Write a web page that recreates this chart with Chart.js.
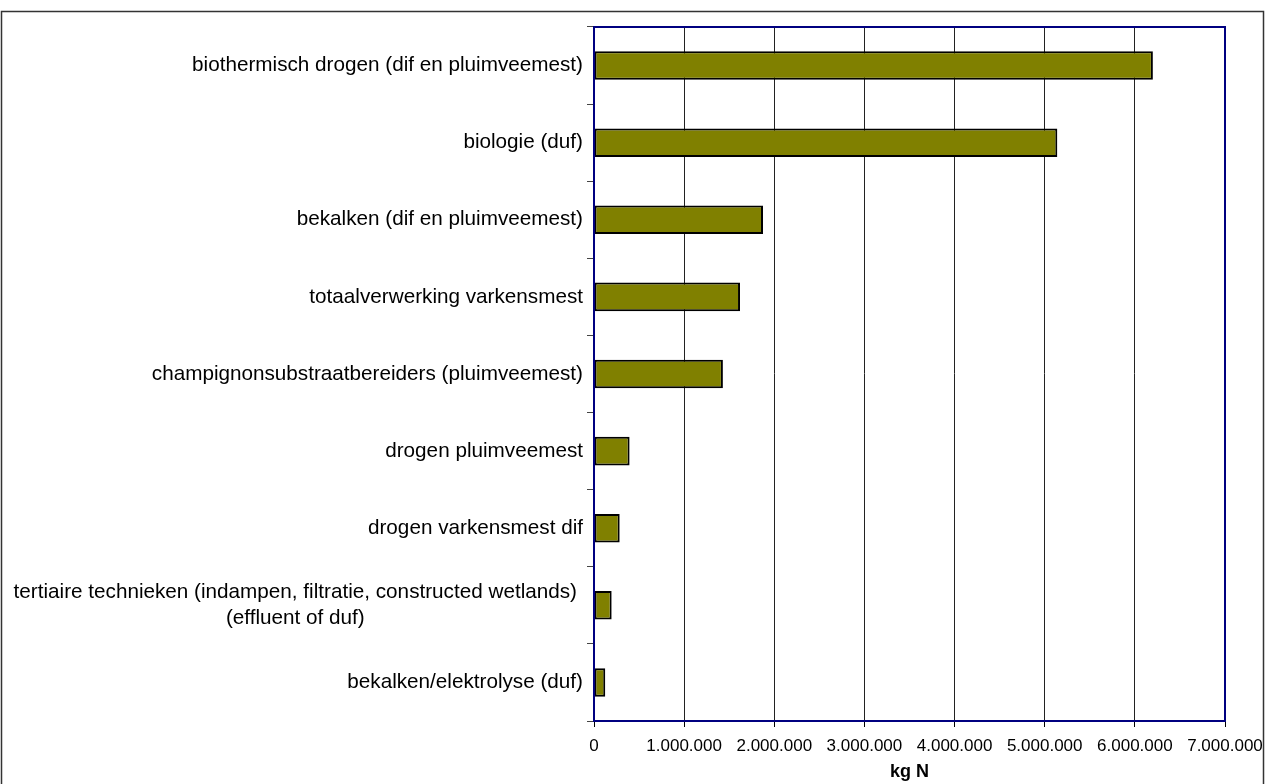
<!DOCTYPE html>
<html>
<head>
<meta charset="utf-8">
<title>kg N per verwerkingstechniek</title>
<script src="https://cdn.jsdelivr.net/npm/chart.js@4.4.1/dist/chart.umd.min.js"></script>
<style>
  html, body { margin: 0; padding: 0; background: #fff; overflow: hidden; }
  #wrap { position: relative; width: 1265px; height: 800px; }
</style>
</head>
<body>
<div id="wrap"><canvas id="chartN"></canvas></div>
<script>
// ---- data ----
const CATEGORIES = [
  ['biothermisch drogen (dif en pluimveemest)'],
  ['biologie (duf)'],
  ['bekalken (dif en pluimveemest)'],
  ['totaalverwerking varkensmest '],
  ['champignonsubstraatbereiders (pluimveemest)'],
  ['drogen pluimveemest'],
  ['drogen varkensmest dif'],
  ['tertiaire technieken (indampen, filtratie, constructed wetlands)', '(effluent of duf)'],
  ['bekalken/elektrolyse (duf)']
];
const VALUES_KG_N = [6200000, 5140000, 1875000, 1620000, 1430000, 395000, 285000, 196000, 125000];
const X_MIN = 0;
const X_MAX = 7000000;
const X_STEP = 1000000;
const X_TITLE = 'kg N';

(function () {
  'use strict';

  const OLIVE = '#808000';
  const NAVY = '#000080';
  const INK = '#000';
  const FONT = "'Liberation Sans', Arial, sans-serif";

  // plot area edges in the reference
  const PLOT_LEFT = 594;
  const PLOT_BOTTOM = 721;
  const CANVAS_H = 800;

  function dotted(v) {
    return String(v).replace(/\B(?=(\d{3})+(?!\d))/g, '.');
  }

  // white background + outer frame
  const framePlugin = {
    id: 'frame',
    beforeDraw: function (chart) {
      const ctx = chart.ctx;
      ctx.save();
      ctx.fillStyle = '#fff';
      ctx.fillRect(0, 0, chart.width, chart.height);
      ctx.strokeStyle = '#333';
      ctx.lineWidth = 1.5;
      ctx.strokeRect(1.5, 11.5, chart.width - 3, chart.height + 20);
      ctx.restore();
    }
  };

  // navy box round the plot area
  const plotBoxPlugin = {
    id: 'plotBox',
    afterDraw: function (chart) {
      const a = chart.chartArea;
      const ctx = chart.ctx;
      ctx.save();
      ctx.strokeStyle = NAVY;
      ctx.lineWidth = 2;
      ctx.strokeRect(a.left, a.top, a.right - a.left, a.bottom - a.top);
      ctx.restore();
    }
  };

  // category labels: block right aligned, lines centred in the block
  const catLabelPlugin = {
    id: 'catLabels',
    afterDraw: function (chart) {
      const ctx = chart.ctx;
      const y = chart.scales.y;
      const size = 20.7;
      const lineH = 26;
      const right = PLOT_LEFT - 11;
      ctx.save();
      ctx.font = size + 'px ' + FONT;
      ctx.fillStyle = INK;
      ctx.textAlign = 'center';
      ctx.textBaseline = 'middle';
      CATEGORIES.forEach(function (lines, i) {
        const cy = y.getPixelForValue(i);
        const w = Math.max.apply(null, lines.map(function (l) { return ctx.measureText(l.trimEnd()).width; }));
        const cx = (lines.length > 1 ? right - 6 : right) - w / 2;
        const y0 = cy - (lines.length - 1) * lineH / 2;
        lines.forEach(function (l, k) {
          ctx.fillText(l.trimEnd(), cx, y0 + k * lineH);
        });
      });
      ctx.restore();
    }
  };

  new Chart(document.getElementById('chartN'), {
    type: 'bar',
    data: {
      labels: CATEGORIES,
      datasets: [{
        data: VALUES_KG_N,
        backgroundColor: OLIVE,
        borderColor: INK,
        borderWidth: 2,
        borderSkipped: false,
        categoryPercentage: 1,
        barPercentage: 0.37
      }]
    },
    options: {
      indexAxis: 'y',
      responsive: true,
      maintainAspectRatio: false,
      animation: false,
      layout: { padding: { left: 0, top: 27, right: 40, bottom: 0 } },
      plugins: {
        legend: { display: false },
        tooltip: { enabled: false }
      },
      scales: {
        x: {
          min: X_MIN,
          max: X_MAX,
          border: { color: NAVY, width: 2 },
          grid: { color: '#222', lineWidth: 1, tickLength: 6, tickColor: INK },
          ticks: {
            stepSize: X_STEP,
            padding: 9,
            color: INK,
            font: { family: FONT, size: 17 },
            maxRotation: 0,
            autoSkip: false,
            callback: function (v) { return dotted(v); }
          },
          title: {
            display: true,
            text: X_TITLE,
            color: INK,
            font: { family: FONT, size: 18, weight: 'bold' },
            padding: { top: 0, bottom: 17 }
          },
          afterFit: function (s) {
            s.height = CANVAS_H - PLOT_BOTTOM;
            s.paddingLeft = 0;
            s.paddingRight = 0;
          }
        },
        y: {
          border: { color: NAVY, width: 2 },
          grid: { drawOnChartArea: false, tickLength: 7, tickColor: '#444', offset: true },
          ticks: { display: false },
          afterFit: function (s) { s.width = PLOT_LEFT; }
        }
      }
    },
    plugins: [framePlugin, plotBoxPlugin, catLabelPlugin]
  });
})();
</script>
</body>
</html>
